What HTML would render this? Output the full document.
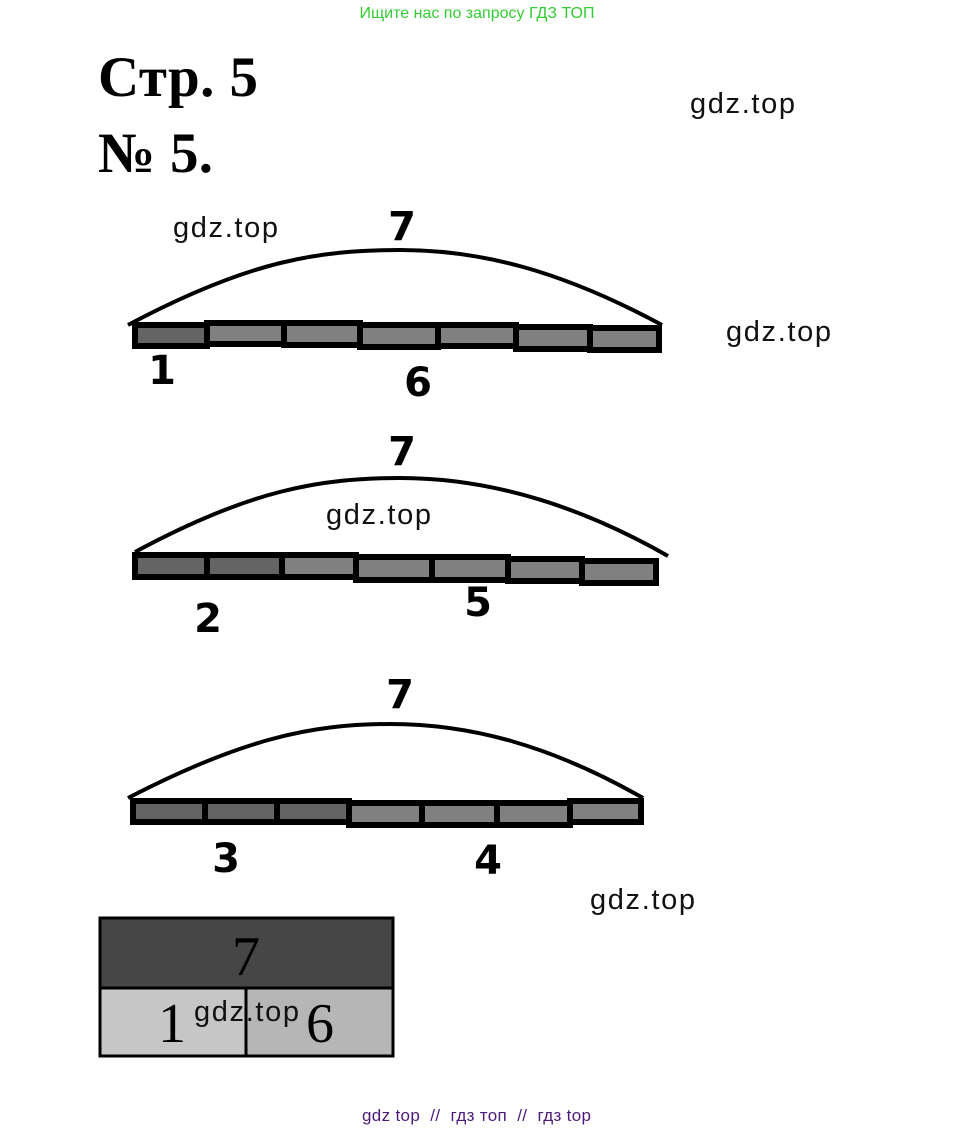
<!DOCTYPE html>
<html><head><meta charset="utf-8"><style>
html,body{margin:0;padding:0;background:#fff;}
body{width:954px;height:1130px;position:relative;overflow:hidden;}
</style></head><body>
<svg width="954" height="1130" viewBox="0 0 954 1130" xmlns="http://www.w3.org/2000/svg" style="position:absolute;left:0;top:0">
<text x="477" y="18" text-anchor="middle" font-family="Liberation Sans, sans-serif" font-size="16" fill="#33cc33">Ищите нас по запросу ГДЗ ТОП</text>
<text x="98" y="96" font-family="Liberation Serif, serif" font-weight="bold" font-size="57" textLength="160" fill="#000">Стр. 5</text>
<text x="98" y="172" font-family="Liberation Serif, serif" font-weight="bold" font-size="57" textLength="115" fill="#000">№ 5.</text>
<g font-family="Liberation Sans, sans-serif" font-size="29" fill="#111">
<text x="690" y="113" textLength="105">gdz.top</text>
<text x="173" y="237" textLength="105">gdz.top</text>
<text x="726" y="341" textLength="105">gdz.top</text>
<text x="326" y="524" textLength="105">gdz.top</text>
<text x="590" y="909" textLength="105">gdz.top</text>
</g>
<g fill="none" stroke="#000" stroke-width="4">
<path d="M128 325 C250 260 320 250 400 250 C480 250 560 270 662 325"/>
<path d="M135 552 C250 490 320 478 400 478 C480 478 570 500 668 556"/>
<path d="M128 798 C240 740 310 724 390 724 C470 724 550 745 643 798"/>
</g>
<g stroke="#000" stroke-width="6">
<rect x="135" y="325" width="72" height="21" fill="#646464"/>
<rect x="207" y="323" width="77" height="21" fill="#808080"/>
<rect x="284" y="323" width="76" height="22" fill="#808080"/>
<rect x="360" y="325" width="78" height="22" fill="#808080"/>
<rect x="438" y="325" width="78" height="21" fill="#808080"/>
<rect x="516" y="327" width="74" height="22" fill="#808080"/>
<rect x="590" y="328" width="69" height="22" fill="#808080"/>
</g>
<g stroke="#000" stroke-width="6">
<rect x="135" y="555" width="72" height="22" fill="#646464"/>
<rect x="207" y="555" width="75" height="22" fill="#646464"/>
<rect x="282" y="555" width="74" height="22" fill="#808080"/>
<rect x="356" y="557" width="76" height="23" fill="#808080"/>
<rect x="432" y="557" width="76" height="23" fill="#808080"/>
<rect x="508" y="559" width="74" height="22" fill="#808080"/>
<rect x="582" y="561" width="74" height="22" fill="#808080"/>
</g>
<g stroke="#000" stroke-width="6">
<rect x="133" y="801" width="72" height="21" fill="#646464"/>
<rect x="205" y="801" width="72" height="21" fill="#646464"/>
<rect x="277" y="801" width="72" height="21" fill="#646464"/>
<rect x="349" y="803" width="73" height="22" fill="#808080"/>
<rect x="422" y="803" width="75" height="22" fill="#808080"/>
<rect x="497" y="803" width="73" height="22" fill="#808080"/>
<rect x="570" y="801" width="71" height="21" fill="#808080"/>
</g>
<g font-family="DejaVu Sans, sans-serif" font-weight="bold" font-size="40" fill="#000" text-anchor="middle">
<text x="402" y="240">7</text>
<text x="162" y="384">1</text>
<text x="418" y="396">6</text>
<text x="402" y="465">7</text>
<text x="208" y="632">2</text>
<text x="478" y="616">5</text>
<text x="400" y="708">7</text>
<text x="226" y="872">3</text>
<text x="488" y="874">4</text>
</g>
<rect x="100" y="918" width="293" height="70" fill="#464646" stroke="#000" stroke-width="3"/>
<rect x="100" y="988" width="146" height="68" fill="#c6c6c6" stroke="#000" stroke-width="3"/>
<rect x="246" y="988" width="147" height="68" fill="#b6b6b6" stroke="#000" stroke-width="3"/>
<g font-family="Liberation Serif, serif" font-size="56" fill="#000" text-anchor="middle">
<text x="246" y="975">7</text>
<text x="172" y="1042">1</text>
<text x="320" y="1042">6</text>
</g>
<text x="194" y="1021" font-family="Liberation Sans, sans-serif" font-size="29" textLength="105" fill="#111">gdz.top</text>
<text x="362" y="1121" font-family="Liberation Sans, sans-serif" font-size="17" textLength="229" fill="#4b1a7a" xml:space="preserve">gdz top  //  гдз топ  //  гдз top</text>
</svg>
</body></html>
